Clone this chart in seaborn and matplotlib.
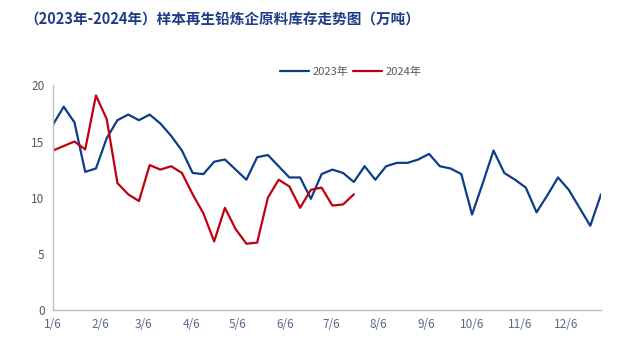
import matplotlib
matplotlib.use("Agg")
import matplotlib.pyplot as plt
import seaborn as sns
import pandas as pd

# weekly inventory (10k tonnes)
inv_2023 = [16.5, 18.1, 16.7, 12.3, 12.6, 15.3, 16.9, 17.4, 16.9, 17.4,
            16.6, 15.5, 14.2, 12.2, 12.1, 13.2, 13.4, 12.5, 11.6, 13.6,
            13.8, 12.8, 11.8, 11.8, 9.9, 12.1, 12.5, 12.2, 11.4, 12.8,
            11.6, 12.8, 13.1, 13.1, 13.4, 13.9, 12.8, 12.6, 12.1, 8.5,
            11.3, 14.2, 12.2, 11.6, 10.9, 8.7, 10.2, 11.8, 10.7, 9.1,
            7.5, 10.3]
inv_2024 = [14.2, 14.6, 15.0, 14.3, 19.1, 17.0, 11.3, 10.3, 9.7, 12.9,
            12.5, 12.8, 12.2, 10.3, 8.6, 6.1, 9.1, 7.2, 5.9, 6.0,
            10.0, 11.6, 11.0, 9.1, 10.7, 10.9, 9.3, 9.4, 10.3]
series_names = ["2023年", "2024年"]
series_colors = ["#0C3C8A", "#C00010"]
tick_months = list(range(1, 13))

weeks = pd.date_range("2023-01-06", periods=len(inv_2023), freq="7D")
df = pd.concat([
    pd.DataFrame({"date": weeks, "value": inv_2023, "year": series_names[0]}),
    pd.DataFrame({"date": weeks[:len(inv_2024)], "value": inv_2024, "year": series_names[1]}),
])

sns.set_style("white")
plt.rcParams["font.family"] = ["Noto Sans CJK SC", "DejaVu Sans"]

fig = plt.figure(figsize=(6.21, 3.51), dpi=100)
ax = fig.add_axes([0.0853, 0.1168, 0.8825, 0.640])

sns.lineplot(data=df, x="date", y="value", hue="year",
             palette=dict(zip(series_names, series_colors)),
             linewidth=1.6, ax=ax)

ax.set_ylim(0, 20)
ax.set_yticks([0, 5, 10, 15, 20])
ax.set_xlim(weeks[0], weeks[-1])
ticks = [pd.Timestamp(2023, m, 6) for m in tick_months]
ax.set_xticks(ticks)
ax.set_xticklabels([f"{m}/6" for m in tick_months])
ax.set_xlabel("")
ax.set_ylabel("")

for side in ["top", "right"]:
    ax.spines[side].set_visible(False)
for side in ["left", "bottom"]:
    ax.spines[side].set_color("#BFBFBF")
    ax.spines[side].set_linewidth(1.0)
ax.tick_params(axis="both", direction="out", length=4, width=1, color="#BFBFBF",
               labelsize=8.5, labelcolor="#595959", pad=2)
ax.tick_params(axis="x", labelcolor="#5A6A8A")

ax.legend(loc="center", bbox_to_anchor=(0.565, 0.795), bbox_transform=fig.transFigure,
          ncol=2, frameon=False, fontsize=8, handlelength=2.6, columnspacing=0.4,
          handletextpad=0.3, labelcolor="#595959")

fig.text(0.04, 0.943, "（2023年-2024年）样本再生铅炼企原料库存走势图（万吨）",
         fontsize=10.5, fontweight="bold", color="#1F3C88", va="center", ha="left")

fig.savefig("out.png", dpi=100)
